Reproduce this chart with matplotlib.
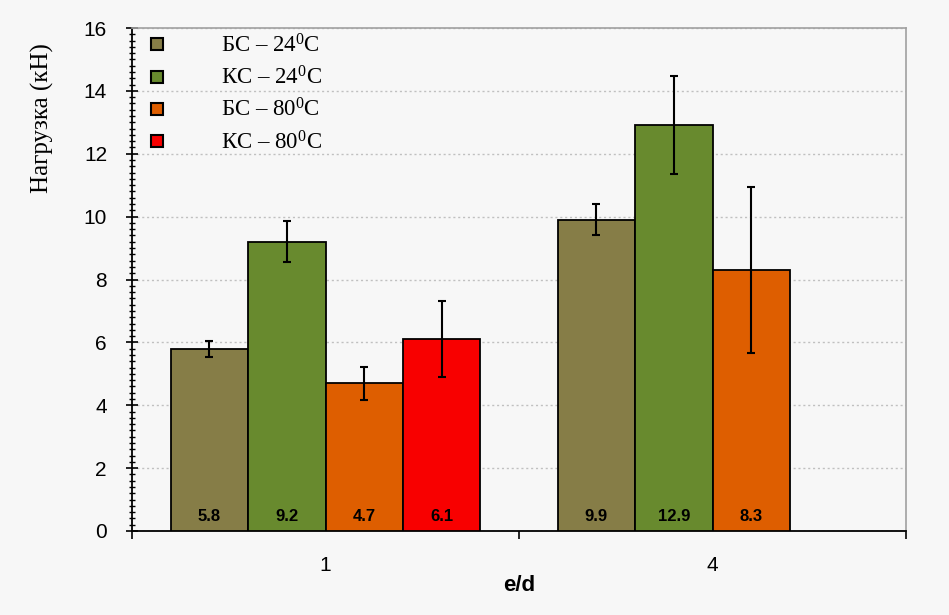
import numpy as np
import matplotlib
matplotlib.use("Agg")
import matplotlib.pyplot as plt
from matplotlib.ticker import MultipleLocator, FixedLocator, NullFormatter

plt.rcParams["mathtext.fontset"] = "custom"
plt.rcParams["mathtext.rm"] = "Liberation Serif"
plt.rcParams["mathtext.it"] = "Liberation Serif"

# данные
groups = ["1", "4"]
series = ["БС – 24$\\mathrm{^0}$C", "КС – 24$\\mathrm{^0}$C", "БС – 80$\\mathrm{^0}$C", "КС – 80$\\mathrm{^0}$C"]
colors = ["#867d47", "#688a2e", "#de5e00", "#f80000"]
values = [[5.8, 9.9], [9.2, 12.9], [4.7, 8.3], [6.1, np.nan]]
errors = [[0.25, 0.5], [0.65, 1.56], [0.52, 2.65], [1.21, np.nan]]

bg = "#f7f7f7"
fig = plt.figure(figsize=(9.49, 6.15), dpi=100, facecolor=bg)
ax = fig.add_axes([132 / 949, 1 - 531 / 615, 774 / 949, 503 / 615], facecolor=bg)

x = np.arange(len(groups))
w = 0.2
for i, (name, c) in enumerate(zip(series, colors)):
    pos = x + (i - 1.5) * w
    vals = np.array(values[i])
    errs = np.array(errors[i])
    ok = ~np.isnan(vals)
    ax.bar(pos[ok], vals[ok], width=w, color=c, edgecolor="black", linewidth=1.3, zorder=3)
    ax.errorbar(pos[ok], vals[ok], yerr=errs[ok], fmt="none", ecolor="black",
                elinewidth=1.5, capsize=3, capthick=1.5, zorder=4)
    for p, v in zip(pos[ok], vals[ok]):
        ax.text(p, 0.45, f"{v:.1f}", ha="center", va="center", fontsize=12,
                fontweight="bold", family="Liberation Sans", zorder=5)
    # маркер для легенды
    ax.plot([], [], "s", color=c, markeredgecolor="black", markeredgewidth=1.5,
            markersize=8, label=name)

ax.set_xlim(-0.5, 1.5)
ax.set_ylim(0, 16)
ax.yaxis.set_major_locator(MultipleLocator(2))
ax.yaxis.set_minor_locator(MultipleLocator(0.2))
ax.grid(axis="y", which="major", color="#c0c0c0", linestyle=(0, (1.5, 2)), linewidth=1, zorder=0)

ax.xaxis.set_major_locator(FixedLocator([-0.5, 0.5, 1.5]))
ax.xaxis.set_major_formatter(NullFormatter())
ax.xaxis.set_minor_locator(FixedLocator(x))
ax.set_xticklabels(groups, minor=True)
ax.tick_params(axis="x", which="major", length=6, width=1.2, direction="out")
ax.tick_params(axis="x", which="minor", length=0, pad=18, labelsize=15)
ax.tick_params(axis="y", which="major", length=8, width=1.2, direction="inout", labelsize=15, pad=14)
ax.tick_params(axis="y", which="minor", length=5, width=1, direction="inout")
for lab in ax.get_xticklabels(minor=True) + ax.get_yticklabels():
    lab.set_family("Liberation Sans")

for s in ["left", "bottom"]:
    ax.spines[s].set_color("black")
    ax.spines[s].set_linewidth(1.3)
for s in ["top", "right"]:
    ax.spines[s].set_color("#a0a0a0")
    ax.spines[s].set_linewidth(1.2)

ax.set_ylabel("Нагрузка (кН)", family="Liberation Serif", fontsize=18)
ax.yaxis.set_label_coords(-0.101, 0.82)
ax.set_xlabel("e/d", family="Liberation Sans", fontsize=16, fontweight="bold")
ax.xaxis.set_label_coords(0.5, -0.088)

leg = ax.legend(loc="upper left", bbox_to_anchor=(-0.01, 1.02), frameon=False,
                prop={"family": "Liberation Serif", "size": 16.5}, handletextpad=2.0,
                labelspacing=0.4, borderaxespad=0.3, handlelength=1.5)

fig.savefig("out.png", dpi=100, facecolor=bg)
